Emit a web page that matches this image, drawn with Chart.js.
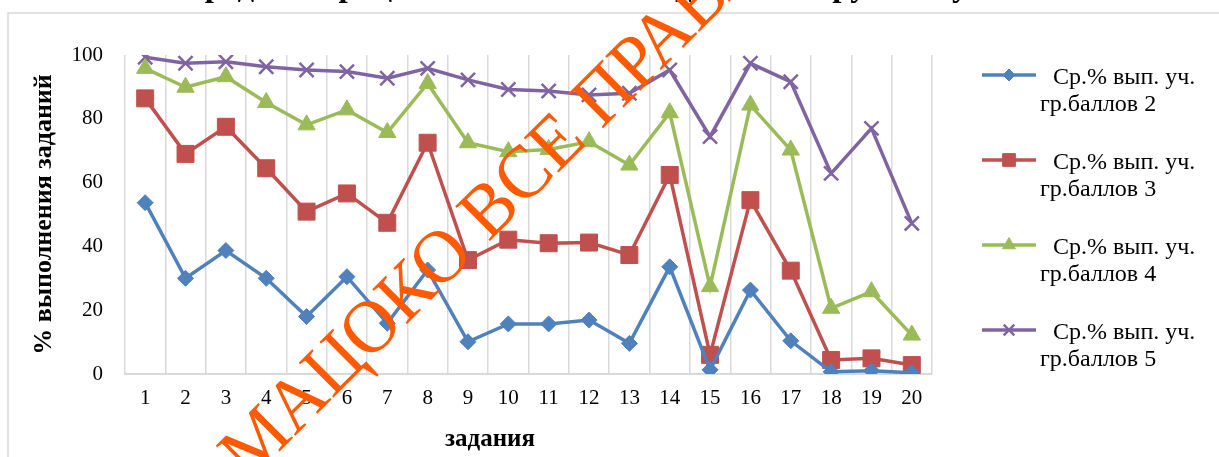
<!DOCTYPE html>
<html>
<head>
<meta charset="utf-8">
<script src="https://cdn.jsdelivr.net/npm/chart.js@4.4.1/dist/chart.umd.min.js"></script>
<style>
  html, body { margin: 0; padding: 0; background: #fff; }
  #wrap { width: 1219px; height: 457px; position: relative; }
</style>
</head>
<body>
<div id="wrap"><canvas id="tasks-chart"></canvas></div>
<script>
// Data
const categories = ['1', '2', '3', '4', '5', '6', '7', '8', '9', '10',
  '11', '12', '13', '14', '15', '16', '17', '18', '19', '20'];
const grade2 = [53.7, 30.0, 38.7, 30.0, 18.0, 30.5, 15.9, 32.6, 10.1, 15.7,
  15.7, 16.9, 9.6, 33.6, 1.3, 26.3, 10.4, 0.7, 1.0, 0.4];
const grade3 = [86.4, 69.0, 77.5, 64.5, 50.9, 56.6, 47.4, 72.5, 35.7, 42.1,
  41.0, 41.2, 37.3, 62.4, 6.0, 54.5, 32.4, 4.4, 4.9, 2.8];
const grade4 = [95.8, 89.9, 93.2, 85.1, 78.1, 82.8, 75.7, 91.1, 72.5, 69.7,
  70.4, 72.8, 65.5, 81.9, 27.4, 84.3, 70.2, 20.6, 25.8, 12.2];
const grade5 = [99.3, 97.4, 97.9, 96.3, 95.3, 94.8, 92.7, 95.8, 92.2, 89.2,
  88.7, 87.5, 88.0, 95.3, 74.4, 97.4, 91.6, 62.9, 77.0, 47.2];
const seriesNames = ['Ср.% вып. уч. гр.баллов 2', 'Ср.% вып. уч. гр.баллов 3',
  'Ср.% вып. уч. гр.баллов 4', 'Ср.% вып. уч. гр.баллов 5'];

const chartTitle = 'Средний процент выполнения заданий по группам участников';
const xTitle = 'задания';
const yTitle = '% выполнения заданий';
const watermark = 'МАЦОКО ВСЕ ПРАВА ЗАЩИЩЕНЫ';

const serif = '"Liberation Serif", "Times New Roman", serif';

function makeSeries(label, data, color, style, radius, pointBorder) {
  return {
    label: label,
    data: data,
    borderColor: color,
    backgroundColor: color,
    pointBackgroundColor: color,
    pointBorderColor: color,
    borderWidth: 3.5,
    pointStyle: style,
    pointRadius: radius,
    pointHoverRadius: radius,
    pointBorderWidth: pointBorder,
    tension: 0
  };
}

// Watermark goes across the plot at 45 degrees, letters fitted between two anchors
function drawWatermark(ctx) {
  const size = 75;
  ctx.font = size + 'px ' + serif;
  const w = s => ctx.measureText(s).width;
  const fromStart = w('МА') + w('Ц') / 2;       // centre of "Ц"
  const toEnd = w('МАЦОКО ВСЕ ПР') + w('А') / 2; // centre of "А" in "ПРАВА"
  const sx = 474 / (toEnd - fromStart);
  const dir = [Math.SQRT1_2, -Math.SQRT1_2];
  const up = [-Math.SQRT1_2, -Math.SQRT1_2];
  const lift = size * 0.33;
  const ox = 333 - dir[0] * fromStart * sx - up[0] * lift;
  const oy = 363 - dir[1] * fromStart * sx - up[1] * lift;
  ctx.translate(ox, oy);
  ctx.rotate(-Math.PI / 4);
  ctx.scale(sx, 1);
  ctx.fillStyle = '#ff5a00';
  ctx.textAlign = 'left';
  ctx.textBaseline = 'alphabetic';
  ctx.fillText(watermark, 0, 0);
}

// Frame, cut-off title, x axis title, legend on the right and the watermark
const decorPlugin = {
  id: 'decor',
  beforeDraw(chart) {
    const ctx = chart.ctx;
    ctx.save();
    ctx.fillStyle = '#fff';
    ctx.fillRect(0, 0, chart.width, chart.height);
    ctx.strokeStyle = '#d9d9d9';
    ctx.lineWidth = 1.5;
    ctx.strokeRect(8, 13, chart.width + 10, chart.height + 10);
    // title sits above the visible area, only its lowest parts show
    ctx.fillStyle = '#000';
    ctx.font = 'bold 33px ' + serif;
    ctx.textBaseline = 'alphabetic';
    ctx.textAlign = 'left';
    ctx.fillText(chartTitle, 181, -4);
    ctx.restore();
  },
  afterDraw(chart) {
    const ctx = chart.ctx;
    ctx.save();
    ctx.fillStyle = '#000';
    ctx.font = 'bold 25px ' + serif;
    ctx.textAlign = 'center';
    ctx.textBaseline = 'middle';
    ctx.fillText(xTitle, 490, 440);

    chart.data.datasets.forEach((ds, i) => {
      const y = 75 + i * 85;
      ctx.strokeStyle = ds.borderColor;
      ctx.fillStyle = ds.backgroundColor;
      ctx.lineWidth = 3.5;
      ctx.beginPath();
      ctx.moveTo(982, y);
      ctx.lineTo(1036, y);
      ctx.stroke();
      ctx.lineWidth = ds.pointBorderWidth;
      Chart.helpers.drawPoint(ctx, {
        pointStyle: ds.pointStyle,
        radius: ds.pointRadius * 0.75,
        borderWidth: ds.pointBorderWidth,
        rotation: 0
      }, 1009, y);

      const parts = ds.label.split(' гр.');
      ctx.fillStyle = '#000';
      ctx.font = '24px ' + serif;
      ctx.textAlign = 'left';
      ctx.textBaseline = 'middle';
      ctx.fillText(parts[0], 1053, y + 3);
      ctx.fillText('гр.' + parts[1], 1040, y + 30);
    });
    ctx.restore();

    ctx.save();
    drawWatermark(ctx);
    ctx.restore();
  }
};

const ctx = document.getElementById('tasks-chart');
new Chart(ctx, {
  type: 'line',
  data: {
    labels: categories,
    datasets: [
      makeSeries(seriesNames[0], grade2, '#4f81bd', 'rectRot', 8, 1),
      makeSeries(seriesNames[1], grade3, '#c0504d', 'rect', 12, 1),
      makeSeries(seriesNames[2], grade4, '#9bbb59', 'triangle', 10, 1),
      makeSeries(seriesNames[3], grade5, '#8064a2', 'crossRot', 10, 2.5)
    ]
  },
  options: {
    responsive: true,
    maintainAspectRatio: false,
    animation: false,
    events: [],
    layout: { padding: { top: 55, right: 287, bottom: 0, left: 0 } },
    plugins: {
      legend: { display: false },
      title: { display: false },
      tooltip: { enabled: false }
    },
    scales: {
      x: {
        offset: true,
        grid: { offset: true, color: '#d9d9d9', lineWidth: 1.5, drawTicks: false },
        border: { color: '#d9d9d9', width: 2 },
        ticks: {
          font: { family: serif, size: 21 },
          color: '#000',
          padding: 12,
          maxRotation: 0,
          autoSkip: false
        },
        afterFit(scale) { scale.height = 83; }
      },
      y: {
        min: 0,
        max: 100,
        grid: { display: false, drawTicks: false },
        border: { display: false },
        ticks: {
          stepSize: 20,
          font: { family: serif, size: 21 },
          color: '#000',
          padding: 22
        },
        title: {
          display: true,
          text: yTitle,
          font: { family: serif, size: 26, weight: 'bold' },
          color: '#000',
          padding: { top: 29, bottom: 0 }
        },
        afterFit(scale) { scale.width = 125; }
      }
    }
  },
  plugins: [decorPlugin]
});
</script>
</body>
</html>
